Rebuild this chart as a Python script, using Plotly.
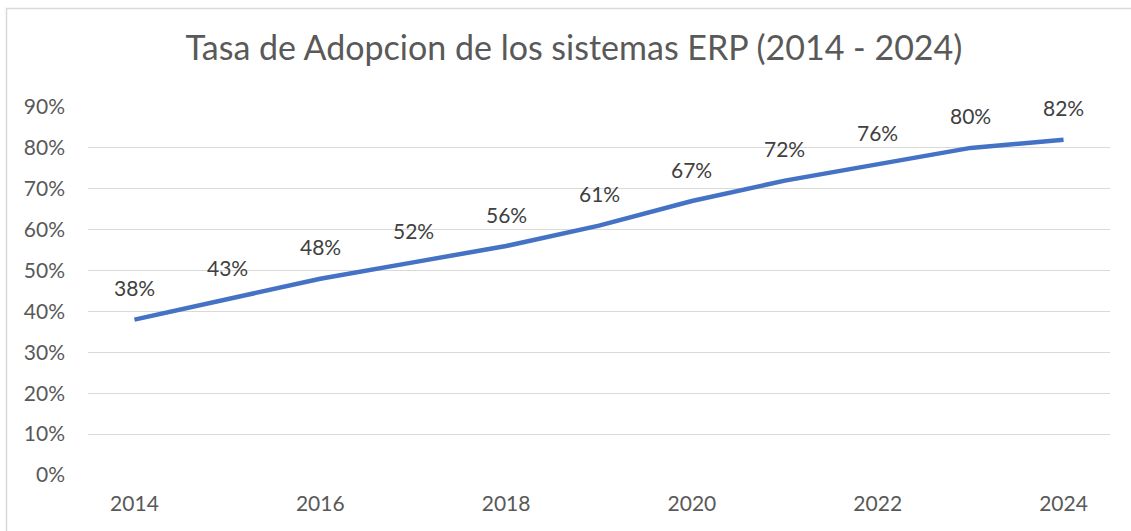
import plotly.graph_objects as go

years = [2014, 2015, 2016, 2017, 2018, 2019, 2020, 2021, 2022, 2023, 2024]
adoption = [0.38, 0.43, 0.48, 0.52, 0.56, 0.61, 0.67, 0.72, 0.76, 0.80, 0.82]
labels = ["38%", "43%", "48%", "52%", "56%", "61%", "67%", "72%", "76%", "80%", "82%"]
x_ticks = [2014, 2016, 2018, 2020, 2022, 2024]
y_ticks = [0, 0.1, 0.2, 0.3, 0.4, 0.5, 0.6, 0.7, 0.8, 0.9]
y_tick_text = ["0%", "10%", "20%", "30%", "40%", "50%", "60%", "70%", "80%", "90%"]
title = "Tasa de Adopcion de los sistemas ERP (2014 - 2024)"

FONT = "Lato, 'Open Sans', sans-serif"

fig = go.Figure()
fig.add_trace(go.Scatter(
    x=years, y=adoption, mode="lines",
    line=dict(color="#4472C4", width=4.5),
    hoverinfo="skip", showlegend=False,
))

for x, y, t in zip(years, adoption, labels):
    fig.add_annotation(x=x, y=y, text=t, showarrow=False, yshift=32,
                       font=dict(family=FONT, size=21, color="#404040"))

W, H = 1131, 531
L, R, T, B = 88, 21, 107, 56
pw, ph = W - L - R, H - T - B
px = lambda v: (v - L) / pw
py = lambda v: (H - B - v) / ph

fig.add_shape(type="path", xref="paper", yref="paper",
              path=f"M {px(6.5)} {py(540)} L {px(6.5)} {py(8.5)} L {px(1140)} {py(8.5)}",
              line=dict(color="#d9d9d9", width=1.5), layer="below")

fig.update_layout(
    width=W, height=H,
    margin=dict(l=L, r=R, t=T, b=B),
    paper_bgcolor="white", plot_bgcolor="white",
    title=dict(text=title, x=574 / W, xref="container", xanchor="center",
               y=1 - 48 / H, yanchor="middle", yref="container",
               font=dict(family=FONT, size=34, color="#595959")),
    xaxis=dict(range=[2013.5, 2024.5], tickvals=x_ticks, ticktext=[str(v) for v in x_ticks],
               showgrid=False, zeroline=False, showline=False, ticks="",
               tickfont=dict(family=FONT, size=21, color="#595959"),
               ticklabelstandoff=14),
    yaxis=dict(range=[0, 0.9], tickvals=y_ticks, ticktext=y_tick_text,
               showgrid=True, gridcolor="#d9d9d9", gridwidth=1,
               zeroline=False, showline=False, ticks="",
               tickfont=dict(family=FONT, size=21, color="#595959"),
               ticklabelstandoff=22),
)

fig.write_html("out.html", config={"displayModeBar": False},
               post_script="document.body.style.margin='0';")
